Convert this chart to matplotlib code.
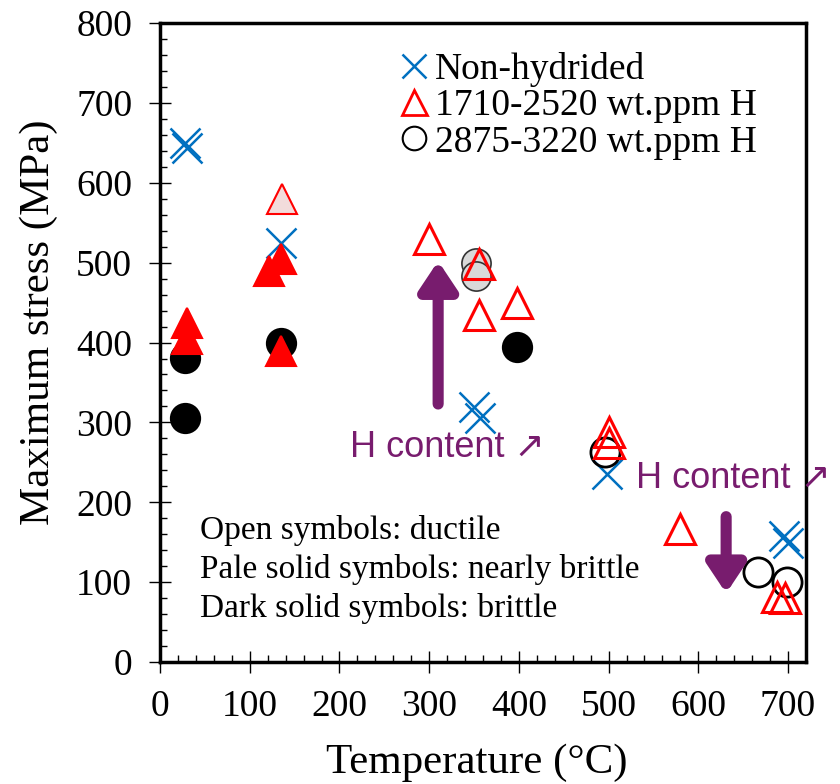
import numpy as np
import matplotlib.pyplot as plt
from matplotlib.lines import Line2D
from matplotlib.ticker import MultipleLocator

# Non-hydrided (blue crosses)
non_T = [28, 30, 135, 350, 357, 498, 695, 700]
non_S = [650, 643, 524, 319, 306, 236, 158, 149]

# 1710-2520 wt.ppm H (red triangles)
tri_open_T = [300, 355, 355, 398, 500, 500, 580, 688, 697]
tri_open_S = [530, 498, 434, 449, 288, 274, 167, 81, 80]
tri_pale_T = [136]
tri_pale_S = [580]
tri_dark_T = [30, 30, 121, 135, 135]
tri_dark_S = [424, 405, 489, 505, 389]

# 2875-3220 wt.ppm H (black circles)
cir_open_T = [496, 667, 699]
cir_open_S = [263, 113, 100]
cir_pale_T = [352, 352]
cir_pale_S = [499, 483]
cir_dark_T = [28, 28, 135, 398]
cir_dark_S = [381, 306, 400, 394]

blue = '#0070C0'
red = '#FF0000'
purple = '#781C6E'
serif = 'Liberation Serif'
sans = ['Liberation Sans', 'DejaVu Sans']

plt.rcParams['font.family'] = serif

fig = plt.figure(figsize=(8.4, 7.84), dpi=100)
ax = fig.add_axes([0.1905, 0.1556, 0.769, 0.815])

ms = 21
ax.plot(non_T, non_S, 'x', color=blue, ms=ms, mew=1.8, zorder=3)
ax.plot(cir_dark_T, cir_dark_S, 'o', mfc='black', mec='black', ms=ms, mew=1.5, zorder=4)
ax.plot(cir_pale_T, cir_pale_S, 'o', mfc='#D9D9D9', mec='#333333', ms=ms, mew=1.2, zorder=4)
ax.plot(cir_open_T, cir_open_S, 'o', mfc='none', mec='black', ms=ms, mew=2, zorder=4)
ax.plot(tri_dark_T, tri_dark_S, '^', mfc=red, mec=red, ms=ms, mew=1.5, zorder=5)
ax.plot(tri_pale_T, tri_pale_S, '^', mfc='#F2DCDB', mec=red, ms=ms, mew=1.5, zorder=5)
ax.plot(tri_open_T, tri_open_S, '^', mfc='none', mec=red, ms=ms, mew=2.2, zorder=5)

# H content arrows
arrow_kw = dict(arrowstyle='-|>,head_length=0.6,head_width=0.4', color=purple,
                lw=8, capstyle='round', joinstyle='round', shrinkA=0, shrinkB=0,
                mutation_scale=28)
ax.annotate('', xy=(310, 502), xytext=(310, 323), arrowprops=arrow_kw, zorder=6)
ax.annotate('', xy=(631, 86), xytext=(631, 182), arrowprops=arrow_kw, zorder=6)
ax.text(212, 268, 'H content \u2197', color=purple, fontsize=26, family=sans, va='center')
ax.text(530, 230, 'H content \u2197', color=purple, fontsize=26, family=sans, va='center')

# symbol notes
notes = ['Open symbols: ductile', 'Pale solid symbols: nearly brittle',
         'Dark solid symbols: brittle']
for i, s in enumerate(notes):
    ax.text(45, 165 - 49 * i, s, fontsize=24, va='center')

ax.set_xlim(0, 720)
ax.set_ylim(0, 800)
ax.xaxis.set_major_locator(MultipleLocator(100))
ax.xaxis.set_minor_locator(MultipleLocator(20))
ax.yaxis.set_major_locator(MultipleLocator(100))
ax.yaxis.set_minor_locator(MultipleLocator(20))
ax.tick_params(which='major', direction='inout', length=16, width=1, labelsize=27)
ax.tick_params(axis='y', which='major', pad=12)
ax.tick_params(axis='x', which='major', pad=12)
ax.tick_params(which='minor', direction='in', length=5, width=1)
for sp in ax.spines.values():
    sp.set_linewidth(2.5)

ax.set_xlabel('Temperature (\u00b0C)', fontsize=31)
ax.set_ylabel('Maximum stress (MPa)', fontsize=31)
ax.xaxis.set_label_coords(0.491, -0.128)
ax.yaxis.set_label_coords(-0.158, 0.532)

handles = [
    Line2D([], [], ls='none', marker='x', color=blue, ms=17, mew=1.8),
    Line2D([], [], ls='none', marker='^', mfc='none', mec=red, ms=18, mew=2),
    Line2D([], [], ls='none', marker='o', mfc='none', mec='black', ms=17, mew=1.5),
]
labels = ['Non-hydrided', '1710-2520 wt.ppm H', '2875-3220 wt.ppm H']
ax.legend(handles, labels, loc='upper left', bbox_to_anchor=(0.37, 0.955),
          frameon=False, fontsize=27, handlelength=0.8, handletextpad=0.15,
          labelspacing=0.05, borderpad=0, borderaxespad=0)

fig.savefig('out.png', dpi=100)
